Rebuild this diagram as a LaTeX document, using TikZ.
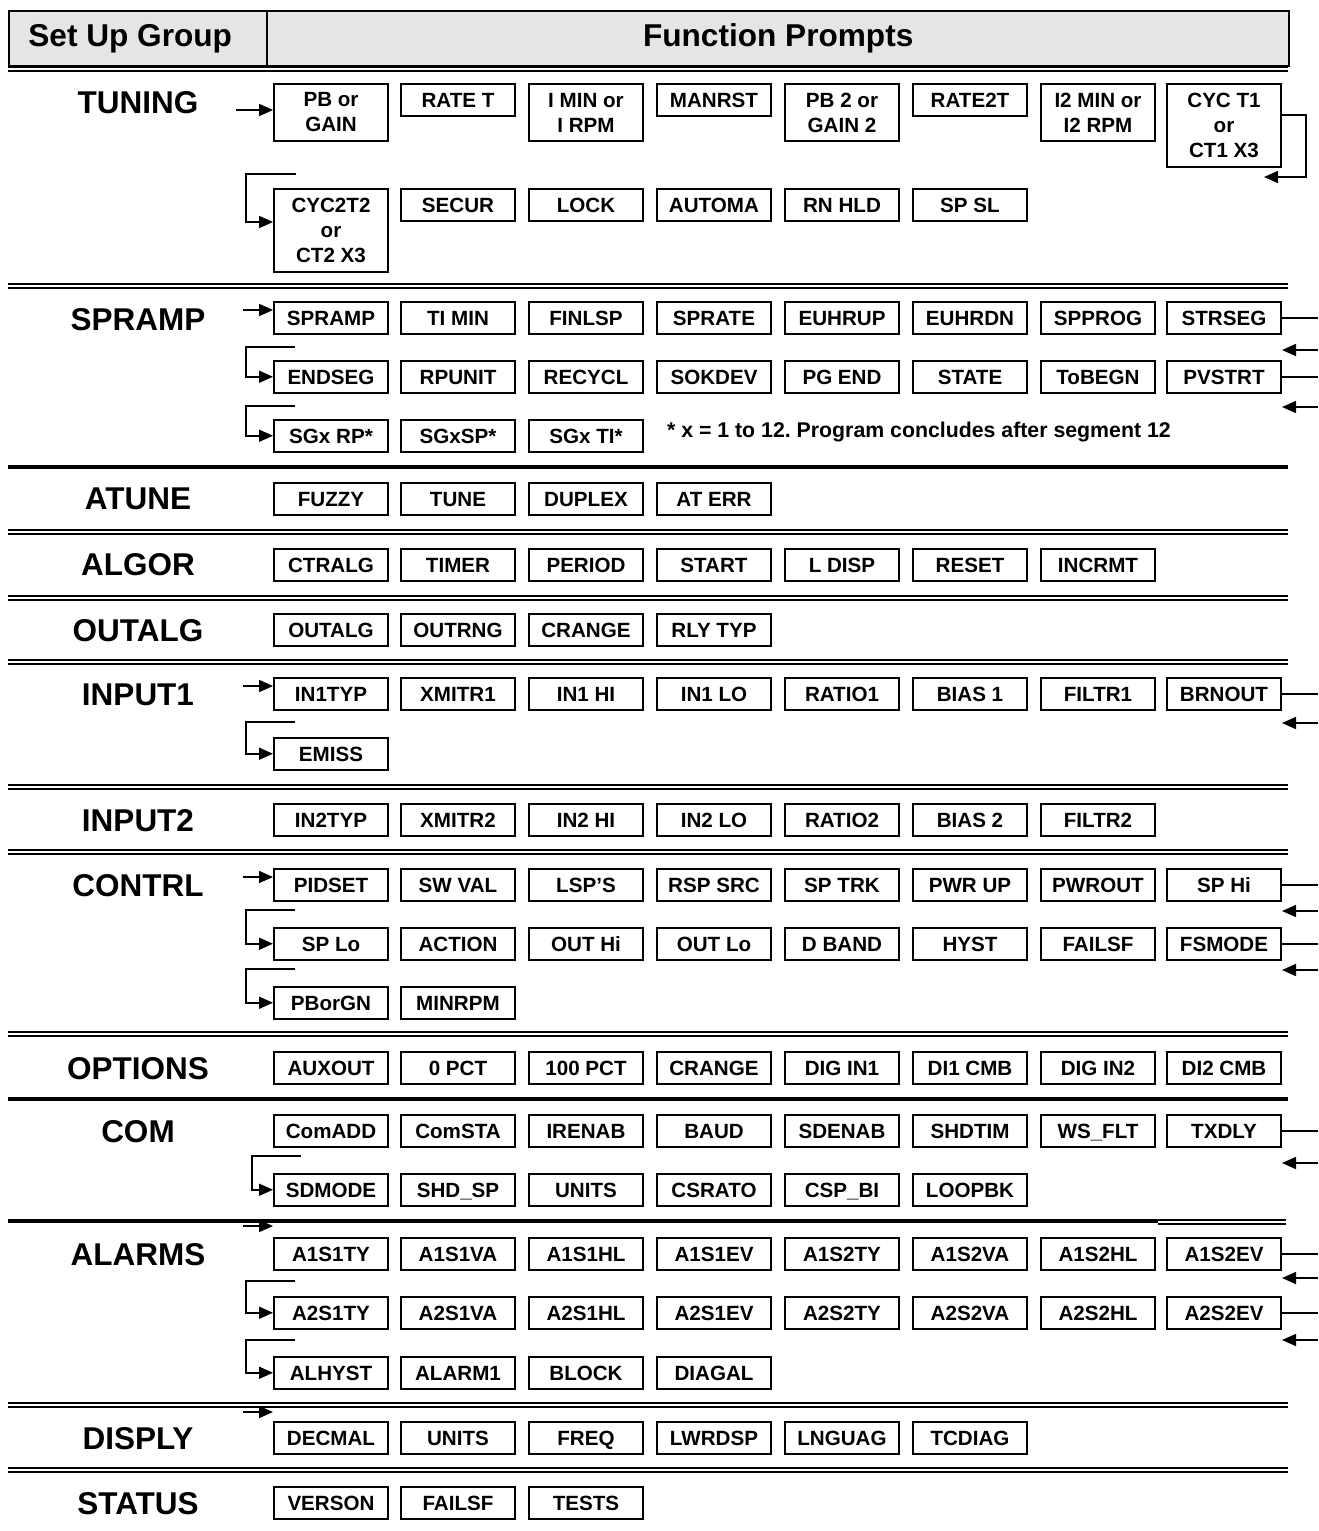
\documentclass[tikz,border=0pt]{standalone}
\usepackage{fontspec}
\setmainfont{Liberation Sans}
\usetikzlibrary{arrows.meta}
\frenchspacing

\begin{document}
\begin{tikzpicture}[
    x=0.5pt, y=-0.5pt,
    prompt/.style={draw, line width=1pt, anchor=north west, minimum width=57pt, minimum height=15.75pt, inner sep=0pt, align=center, text height=7.4pt, text depth=0pt, font=\fontsize{10.3}{12.5}\selectfont\bfseries},
    twoline/.style={prompt, minimum height=28.5pt, text height=, text depth=},
    threeline/.style={prompt, minimum height=41.5pt, text height=, text depth=},
    group/.style={font=\fontsize{15.75}{18}\selectfont\bfseries},
    hdr/.style={draw, line width=1.2pt, fill=black!10, anchor=north west, minimum height=27.5pt, inner sep=0pt, font=\fontsize{15.8}{18}\selectfont\bfseries},
    thickrule/.style={line width=2pt},
    dblrule/.style={double, line width=1.1pt, double distance=0.9pt},
    arrow/.style={-{Triangle[length=7pt,width=6pt]}, line width=0.8pt},
    link/.style={line width=0.8pt}
]
\useasboundingbox (0,0) rectangle (1318,1531);

% Header
\node[hdr, minimum width=129pt] (setup) at (8,10) {Set Up Group\hspace*{8pt}};
\node[hdr, minimum width=511pt] (funcs) at (266,10) {Function Prompts};
\draw[dblrule] (8,69) -- (1288,69);

% TUNING
\node[group] (tuning) at (138,103) {TUNING};
\node[twoline] (tpb) at (273,83) {PB or\\GAIN};
\node[prompt] (tratet) at (400,83) {RATE T};
\node[twoline] (timin) at (528,83) {I MIN or\\I RPM};
\node[prompt] (tmanrst) at (656,83) {MANRST};
\node[twoline] (tpbtwo) at (784,83) {PB 2 or\\GAIN 2};
\node[prompt] (trate2t) at (912,83) {RATE2T};
\node[twoline] (tiimin) at (1040,83) {I2 MIN or\\I2 RPM};
\node[threeline] (tcyct1) at (1166,83) {CYC T1\\or\\CT1 X3};
\node[threeline] (tcyc2t2) at (273,188) {CYC2T2\\or\\CT2 X3};
\node[prompt] (tsecur) at (400,188) {SECUR};
\node[prompt] (tlock) at (528,188) {LOCK};
\node[prompt] (tautoma) at (656,188) {AUTOMA};
\node[prompt] (trnhld) at (784,188) {RN HLD};
\node[prompt] (tspsl) at (912,188) {SP SL};
\coordinate (tin) at (236,110);
\coordinate (tin2) at (296,174);
\draw[arrow] (tin) -- (tin -| tpb.west);
\draw[arrow] ([yshift=-16pt]tcyct1.north east) -- ++(24,0) -- ++(0,62) -- ++(-42,0);
\draw[arrow] (tin2) -- ++(-50,0) |- ([yshift=-17pt]tcyc2t2.north west);
\draw[dblrule] (8,286) -- (1288,286);

% SPRAMP
\node[group] (spramp) at (138,320) {SPRAMP};
\node[prompt] (sspramp) at (273,301) {SPRAMP};
\node[prompt] (stimin) at (400,301) {TI MIN};
\node[prompt] (sfinlsp) at (528,301) {FINLSP};
\node[prompt] (ssprate) at (656,301) {SPRATE};
\node[prompt] (seuhrup) at (784,301) {EUHRUP};
\node[prompt] (seuhrdn) at (912,301) {EUHRDN};
\node[prompt] (sspprog) at (1040,301) {SPPROG};
\node[prompt] (sstrseg) at (1166,301) {STRSEG};
\node[prompt] (sendseg) at (273,360) {ENDSEG};
\node[prompt] (srpunit) at (400,360) {RPUNIT};
\node[prompt] (srecycl) at (528,360) {RECYCL};
\node[prompt] (ssokdev) at (656,360) {SOKDEV};
\node[prompt] (spgend) at (784,360) {PG END};
\node[prompt] (sstate) at (912,360) {STATE};
\node[prompt] (stobegn) at (1040,360) {ToBEGN};
\node[prompt] (spvstrt) at (1166,360) {PVSTRT};
\node[prompt] (ssgxrp) at (273,419) {SGx RP*};
\node[prompt] (ssgxsp) at (400,419) {SGxSP*};
\node[prompt] (ssgxti) at (528,419) {SGx TI*};
\node[anchor=west, font=\fontsize{10.65}{13}\selectfont\bfseries] (snote) at (660,432) {* x = 1 to 12. Program concludes after segment 12};
\coordinate (sin) at (243,310);
\coordinate (sin2) at (295,347);
\coordinate (sin3) at (295,406);
\coordinate (sback1) at (1318,350);
\coordinate (sback2) at (1318,407);
\draw[arrow] (sin) -- (sin -| sspramp.west);
\draw[arrow] (sin2) -- ++(-49,0) |- (sendseg.west);
\draw[arrow] (sin3) -- ++(-49,0) |- (ssgxrp.west);
\draw[link] (sstrseg.east) -- (sstrseg.east -| sback1);
\draw[link] (spvstrt.east) -- (spvstrt.east -| sback2);
\draw[arrow] (sback1) -- (sback1 -| sstrseg.east);
\draw[arrow] (sback2) -- (sback2 -| spvstrt.east);
\draw[thickrule] (8,467) -- (1288,467);

% ATUNE
\node[group] (atune) at (138,499) {ATUNE};
\node[prompt] (afuzzy) at (273,482) {FUZZY};
\node[prompt] (atunep) at (400,482) {TUNE};
\node[prompt] (aduplex) at (528,482) {DUPLEX};
\node[prompt] (aaterr) at (656,482) {AT ERR};
\draw[dblrule] (8,532) -- (1288,532);

% ALGOR
\node[group] (algor) at (138,565) {ALGOR};
\node[prompt] (gctralg) at (273,548) {CTRALG};
\node[prompt] (gtimer) at (400,548) {TIMER};
\node[prompt] (gperiod) at (528,548) {PERIOD};
\node[prompt] (gstart) at (656,548) {START};
\node[prompt] (gldisp) at (784,548) {L DISP};
\node[prompt] (greset) at (912,548) {RESET};
\node[prompt] (gincrmt) at (1040,548) {INCRMT};
\draw[dblrule] (8,598) -- (1288,598);

% OUTALG
\node[group] (outalg) at (138,631) {OUTALG};
\node[prompt] (ooutalg) at (273,613) {OUTALG};
\node[prompt] (ooutrng) at (400,613) {OUTRNG};
\node[prompt] (ocrange) at (528,613) {CRANGE};
\node[prompt] (orlytyp) at (656,613) {RLY TYP};
\draw[dblrule] (8,662) -- (1288,662);

% INPUT1
\node[group] (inputone) at (138,695) {INPUT1};
\node[prompt] (iintyp) at (273,677) {IN1TYP};
\node[prompt] (ixmitr) at (400,677) {XMITR1};
\node[prompt] (iinhi) at (528,677) {IN1 HI};
\node[prompt] (iinlo) at (656,677) {IN1 LO};
\node[prompt] (iratio) at (784,677) {RATIO1};
\node[prompt] (ibias) at (912,677) {BIAS 1};
\node[prompt] (ifiltr) at (1040,677) {FILTR1};
\node[prompt] (ibrnout) at (1166,677) {BRNOUT};
\node[prompt] (iemiss) at (273,737) {EMISS};
\coordinate (iin) at (243,686);
\coordinate (iin2) at (295,722);
\coordinate (iback) at (1318,723);
\draw[arrow] (iin) -- (iin -| iintyp.west);
\draw[arrow] (iin2) -- ++(-49,0) |- (iemiss.west);
\draw[link] (ibrnout.east) -- (ibrnout.east -| iback);
\draw[arrow] (iback) -- (iback -| ibrnout.east);
\draw[dblrule] (8,787) -- (1288,787);

% INPUT2
\node[group] (inputtwo) at (138,821) {INPUT2};
\node[prompt] (jintyp) at (273,803) {IN2TYP};
\node[prompt] (jxmitr) at (400,803) {XMITR2};
\node[prompt] (jinhi) at (528,803) {IN2 HI};
\node[prompt] (jinlo) at (656,803) {IN2 LO};
\node[prompt] (jratio) at (784,803) {RATIO2};
\node[prompt] (jbias) at (912,803) {BIAS 2};
\node[prompt] (jfiltr) at (1040,803) {FILTR2};
\draw[dblrule] (8,852) -- (1288,852);

% CONTRL
\node[group] (contrl) at (138,886) {CONTRL};
\node[prompt] (cpidset) at (273,868) {PIDSET};
\node[prompt] (cswval) at (400,868) {SW VAL};
\node[prompt] (clsps) at (528,868) {LSP’S};
\node[prompt] (crspsrc) at (656,868) {RSP SRC};
\node[prompt] (csptrk) at (784,868) {SP TRK};
\node[prompt] (cpwrup) at (912,868) {PWR UP};
\node[prompt] (cpwrout) at (1040,868) {PWROUT};
\node[prompt] (csphi) at (1166,868) {SP Hi};
\node[prompt] (csplo) at (273,927) {SP Lo};
\node[prompt] (caction) at (400,927) {ACTION};
\node[prompt] (couthi) at (528,927) {OUT Hi};
\node[prompt] (coutlo) at (656,927) {OUT Lo};
\node[prompt] (cdband) at (784,927) {D BAND};
\node[prompt] (chyst) at (912,927) {HYST};
\node[prompt] (cfailsf) at (1040,927) {FAILSF};
\node[prompt] (cfsmode) at (1166,927) {FSMODE};
\node[prompt] (cpborgn) at (273,986) {PBorGN};
\node[prompt] (cminrpm) at (400,986) {MINRPM};
\coordinate (cin) at (243,877);
\coordinate (cin2) at (295,910);
\coordinate (cin3) at (295,969);
\coordinate (cback1) at (1318,911);
\coordinate (cback2) at (1318,970);
\draw[arrow] (cin) -- (cin -| cpidset.west);
\draw[arrow] (cin2) -- ++(-49,0) |- (csplo.west);
\draw[arrow] (cin3) -- ++(-49,0) |- (cpborgn.west);
\draw[link] (csphi.east) -- (csphi.east -| cback1);
\draw[link] (cfsmode.east) -- (cfsmode.east -| cback2);
\draw[arrow] (cback1) -- (cback1 -| csphi.east);
\draw[arrow] (cback2) -- (cback2 -| cfsmode.east);
\draw[dblrule] (8,1034) -- (1288,1034);

% OPTIONS
\node[group] (options) at (138,1069) {OPTIONS};
\node[prompt] (pauxout) at (273,1051) {AUXOUT};
\node[prompt] (pzero) at (400,1051) {0 PCT};
\node[prompt] (phundred) at (528,1051) {100 PCT};
\node[prompt] (pcrange) at (656,1051) {CRANGE};
\node[prompt] (pdigin) at (784,1051) {DIG IN1};
\node[prompt] (pdicmb) at (912,1051) {DI1 CMB};
\node[prompt] (pdigintwo) at (1040,1051) {DIG IN2};
\node[prompt] (pdicmbtwo) at (1166,1051) {DI2 CMB};
\draw[thickrule] (8,1099) -- (1288,1099);

% COM
\node[group] (com) at (138,1132) {COM};
\node[prompt] (mcomadd) at (273,1114) {ComADD};
\node[prompt] (mcomsta) at (400,1114) {ComSTA};
\node[prompt] (mirenab) at (528,1114) {IRENAB};
\node[prompt] (mbaud) at (656,1114) {BAUD};
\node[prompt] (msdenab) at (784,1114) {SDENAB};
\node[prompt] (mshdtim) at (912,1114) {SHDTIM};
\node[prompt] (mwsflt) at (1040,1114) {WS\_FLT};
\node[prompt] (mtxdly) at (1166,1114) {TXDLY};
\node[prompt] (msdmode) at (273,1173) {SDMODE};
\node[prompt] (mshdsp) at (400,1173) {SHD\_SP};
\node[prompt] (munits) at (528,1173) {UNITS};
\node[prompt] (mcsrato) at (656,1173) {CSRATO};
\node[prompt] (mcspbi) at (784,1173) {CSP\_BI};
\node[prompt] (mloopbk) at (912,1173) {LOOPBK};
\coordinate (min2) at (301,1156);
\coordinate (mback) at (1318,1163);
\draw[arrow] (min2) -- ++(-49,0) |- (msdmode.west);
\draw[link] (mtxdly.east) -- (mtxdly.east -| mback);
\draw[arrow] (mback) -- (mback -| mtxdly.east);
\draw[thickrule] (8,1221) -- (1158,1221);
\draw[dblrule] (1158,1222) -- (1286,1222);

% ALARMS
\node[group] (alarms) at (138,1255) {ALARMS};
\node[prompt] (la) at (273,1237) {A1S1TY};
\node[prompt] (lb) at (400,1237) {A1S1VA};
\node[prompt] (lc) at (528,1237) {A1S1HL};
\node[prompt] (ld) at (656,1237) {A1S1EV};
\node[prompt] (le) at (784,1237) {A1S2TY};
\node[prompt] (lf) at (912,1237) {A1S2VA};
\node[prompt] (lg) at (1040,1237) {A1S2HL};
\node[prompt] (lh) at (1166,1237) {A1S2EV};
\node[prompt] (ka) at (273,1296) {A2S1TY};
\node[prompt] (kb) at (400,1296) {A2S1VA};
\node[prompt] (kc) at (528,1296) {A2S1HL};
\node[prompt] (kd) at (656,1296) {A2S1EV};
\node[prompt] (ke) at (784,1296) {A2S2TY};
\node[prompt] (kf) at (912,1296) {A2S2VA};
\node[prompt] (kg) at (1040,1296) {A2S2HL};
\node[prompt] (kh) at (1166,1296) {A2S2EV};
\node[prompt] (lalhyst) at (273,1356) {ALHYST};
\node[prompt] (lalarm) at (400,1356) {ALARM1};
\node[prompt] (lblock) at (528,1356) {BLOCK};
\node[prompt] (ldiagal) at (656,1356) {DIAGAL};
\coordinate (lin) at (243,1226);
\coordinate (lin2) at (295,1281);
\coordinate (lin3) at (295,1340);
\coordinate (lback1) at (1318,1278);
\coordinate (lback2) at (1318,1340);
\draw[arrow] (lin) -- (lin -| la.west);
\draw[arrow] (lin2) -- ++(-49,0) |- (ka.west);
\draw[arrow] (lin3) -- ++(-49,0) |- (lalhyst.west);
\draw[link] (lh.east) -- (lh.east -| lback1);
\draw[link] (kh.east) -- (kh.east -| lback2);
\draw[arrow] (lback1) -- (lback1 -| lh.east);
\draw[arrow] (lback2) -- (lback2 -| kh.east);
\draw[dblrule] (8,1405) -- (1288,1405);

% DISPLY
\node[group] (disply) at (138,1439) {DISPLY};
\node[prompt] (ddecmal) at (273,1421) {DECMAL};
\node[prompt] (dunits) at (400,1421) {UNITS};
\node[prompt] (dfreq) at (528,1421) {FREQ};
\node[prompt] (dlwrdsp) at (656,1421) {LWRDSP};
\node[prompt] (dlnguag) at (784,1421) {LNGUAG};
\node[prompt] (dtcdiag) at (912,1421) {TCDIAG};
\coordinate (din) at (243,1412);
\draw[arrow] (din) -- (din -| ddecmal.west);
\draw[dblrule] (8,1470) -- (1288,1470);

% STATUS
\node[group] (status) at (138,1504) {STATUS};
\node[prompt] (uverson) at (273,1486) {VERSON};
\node[prompt] (ufailsf) at (400,1486) {FAILSF};
\node[prompt] (utests) at (528,1486) {TESTS};
\end{tikzpicture}
\end{document}
